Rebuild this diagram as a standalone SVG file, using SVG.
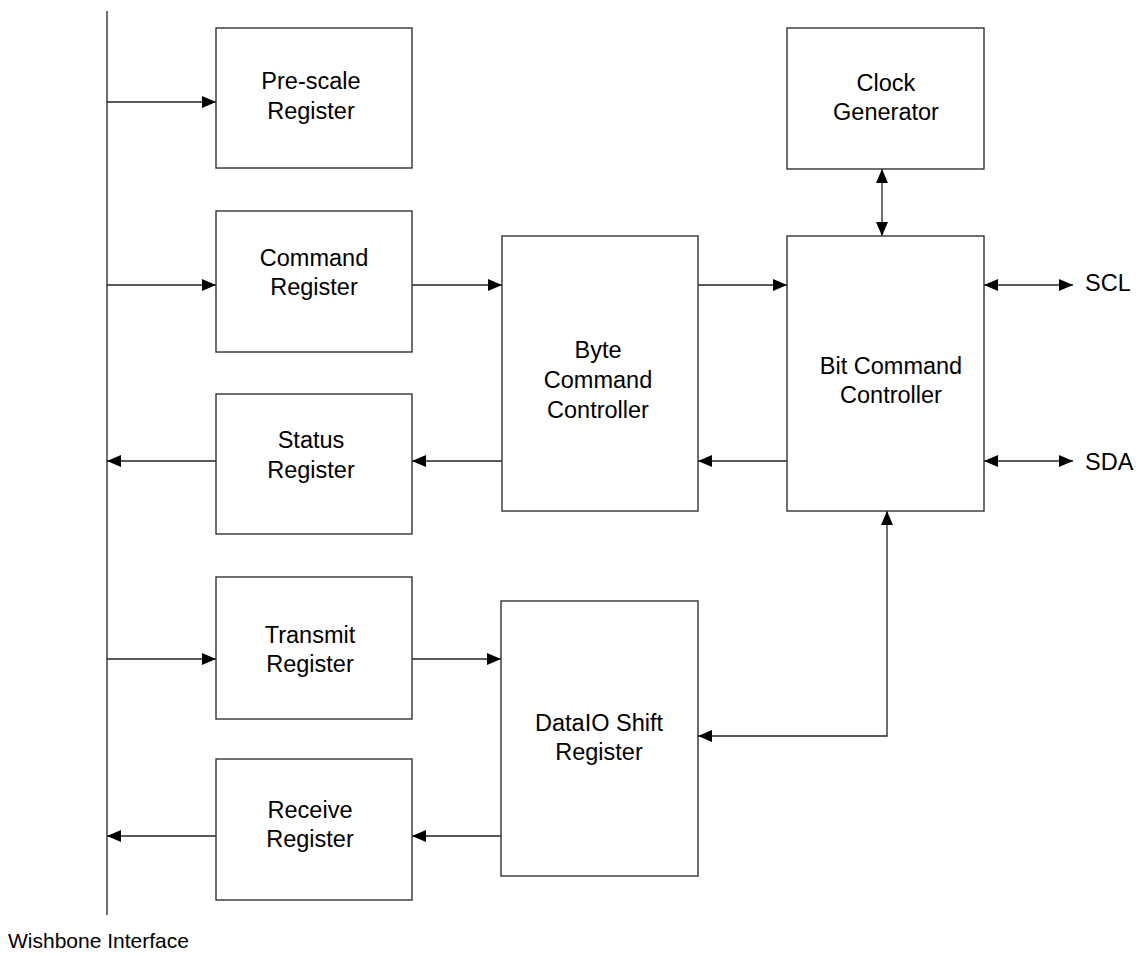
<svg xmlns="http://www.w3.org/2000/svg" width="1136" height="956" viewBox="0 0 1136 956">
<style>
.box{fill:#fff;stroke:#333;stroke-width:1.4}
.ln{fill:none;stroke:#222;stroke-width:1.3}
text{font-family:"Liberation Sans",Arial,sans-serif;font-size:23.5px;fill:#000}
.c{text-anchor:middle}
.sm{font-size:21px}
</style>
<defs>
<marker id="ah" markerUnits="userSpaceOnUse" markerWidth="14" markerHeight="12" refX="14" refY="6" orient="auto-start-reverse">
<path d="M0,0 L14,6 L0,12 z" fill="#000"/>
</marker>
</defs>
<g id="connectors">
<line class="ln" x1="107" y1="11" x2="107" y2="915"/>
<line class="ln" x1="107" y1="102" x2="216" y2="102" marker-end="url(#ah)"/>
<line class="ln" x1="107" y1="285" x2="216" y2="285" marker-end="url(#ah)"/>
<line class="ln" x1="216" y1="461" x2="107" y2="461" marker-end="url(#ah)"/>
<line class="ln" x1="107" y1="659" x2="216" y2="659" marker-end="url(#ah)"/>
<line class="ln" x1="216" y1="836" x2="107" y2="836" marker-end="url(#ah)"/>
<line class="ln" x1="412" y1="285" x2="502" y2="285" marker-end="url(#ah)"/>
<line class="ln" x1="502" y1="461" x2="412" y2="461" marker-end="url(#ah)"/>
<line class="ln" x1="698" y1="285" x2="787" y2="285" marker-end="url(#ah)"/>
<line class="ln" x1="787" y1="461" x2="698" y2="461" marker-end="url(#ah)"/>
<line class="ln" x1="412" y1="659" x2="501" y2="659" marker-end="url(#ah)"/>
<line class="ln" x1="501" y1="836" x2="412" y2="836" marker-end="url(#ah)"/>
<line class="ln" x1="882" y1="169" x2="882" y2="236" marker-start="url(#ah)" marker-end="url(#ah)"/>
<line class="ln" x1="984" y1="285" x2="1073" y2="285" marker-start="url(#ah)" marker-end="url(#ah)"/>
<line class="ln" x1="984" y1="461" x2="1073" y2="461" marker-start="url(#ah)" marker-end="url(#ah)"/>
<path class="ln" d="M698,736 H887 V511" marker-start="url(#ah)" marker-end="url(#ah)"/>
</g>
<g id="prescale"><rect class="box" x="216" y="28" width="196" height="140"/><text class="c" x="311" y="89">Pre-scale</text><text class="c" x="311" y="119">Register</text></g>
<g id="command"><rect class="box" x="216" y="211" width="196" height="141"/><text class="c" x="314" y="266">Command</text><text class="c" x="314" y="295">Register</text></g>
<g id="status"><rect class="box" x="216" y="394" width="196" height="140"/><text class="c" x="311" y="448">Status</text><text class="c" x="311" y="478">Register</text></g>
<g id="transmit"><rect class="box" x="216" y="577" width="196" height="142"/><text class="c" x="310" y="643">Transmit</text><text class="c" x="310" y="672">Register</text></g>
<g id="receive"><rect class="box" x="216" y="759" width="196" height="141"/><text class="c" x="310" y="818">Receive</text><text class="c" x="310" y="847">Register</text></g>
<g id="byte"><rect class="box" x="502" y="236" width="196" height="275"/><text class="c" x="598" y="358">Byte</text><text class="c" x="598" y="388">Command</text><text class="c" x="598" y="418">Controller</text></g>
<g id="bit"><rect class="box" x="787" y="236" width="197" height="275"/><text class="c" x="891" y="374">Bit Command</text><text class="c" x="891" y="403">Controller</text></g>
<g id="clock"><rect class="box" x="787" y="28" width="197" height="141"/><text class="c" x="886" y="91">Clock</text><text class="c" x="886" y="120">Generator</text></g>
<g id="dataio"><rect class="box" x="501" y="601" width="197" height="275"/><text class="c" x="599" y="731">DataIO Shift</text><text class="c" x="599" y="760">Register</text></g>
<g id="labels"><text x="1085" y="291">SCL</text><text x="1085" y="470">SDA</text><text class="sm" x="8" y="948">Wishbone Interface</text></g>
</svg>
